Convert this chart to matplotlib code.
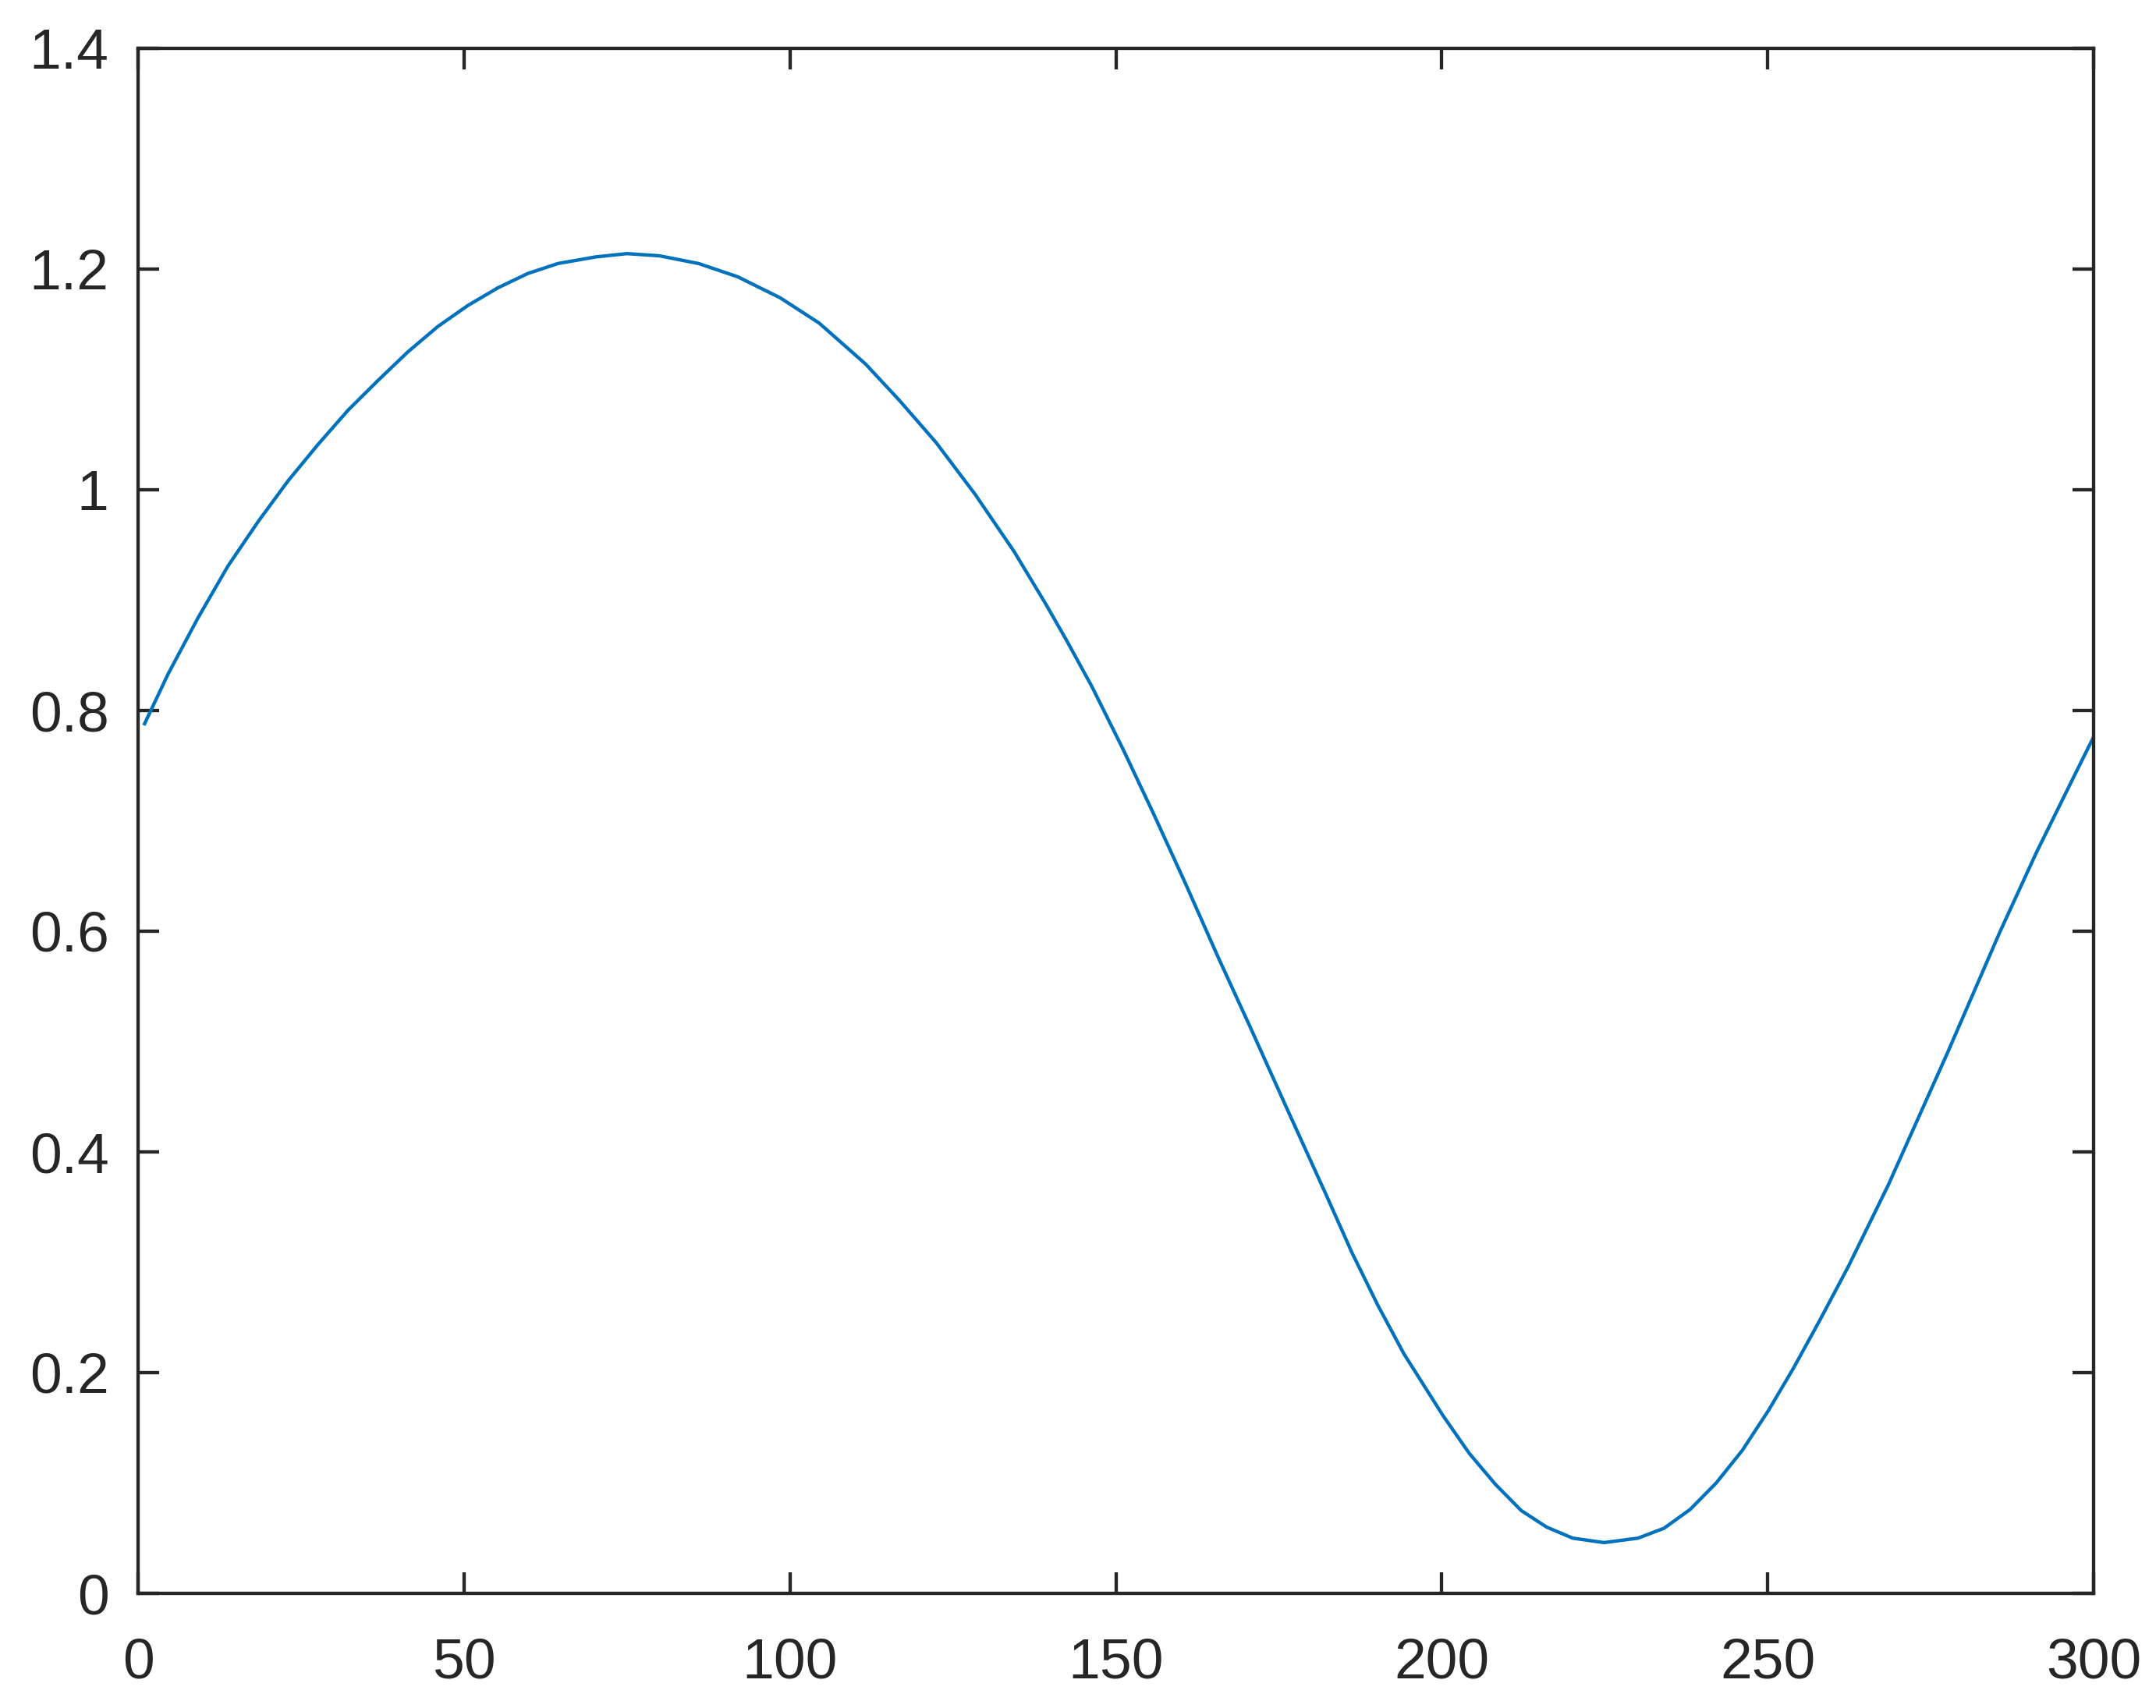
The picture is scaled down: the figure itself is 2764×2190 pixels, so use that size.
import matplotlib
matplotlib.use("Agg")
import matplotlib.pyplot as plt

# values
x_vals = [1, 4.6, 9.2, 13.8, 18.4, 23.0, 27.6, 32.2, 36.8, 41.4, 46.0, 50.6,
          55.2, 59.8, 64.4, 70.2, 75, 80, 86, 92, 98.5, 104.5, 111.6, 116.8,
          122.4, 128.4, 134.4, 139.2, 142.4, 146.3, 151.1, 155.9, 160.7, 165.5,
          170.7, 176.5, 182.2, 186.2, 190.2, 194.2, 200.2, 204.2, 208.2, 212.2,
          216.1, 220.1, 224.9, 230.1, 234.1, 238.1, 242.1, 246.1, 250.1, 254.0,
          258.0, 262.4, 268.5, 277.6, 285.6, 291.2, 296.8, 300]
y_vals = [0.788, 0.833, 0.884, 0.931, 0.971, 1.008, 1.041, 1.072, 1.099, 1.125,
          1.148, 1.167, 1.183, 1.196, 1.205, 1.211, 1.214, 1.212, 1.205, 1.193,
          1.174, 1.151, 1.114, 1.081, 1.043, 0.996, 0.944, 0.897, 0.864, 0.822,
          0.765, 0.705, 0.643, 0.579, 0.512, 0.436, 0.362, 0.309, 0.261, 0.217,
          0.161, 0.127, 0.099, 0.075, 0.060, 0.050, 0.046, 0.050, 0.059, 0.076,
          0.100, 0.1295, 0.1655, 0.2045, 0.2475, 0.2965, 0.370, 0.490, 0.599,
          0.671, 0.738, 0.776]

x_ticks = [0, 50, 100, 150, 200, 250, 300]
y_ticks = [0, 0.2, 0.4, 0.6, 0.8, 1, 1.2, 1.4]
y_labels = ['0', '0.2', '0.4', '0.6', '0.8', '1', '1.2', '1.4']

dark = '#262626'
plt.rcParams['font.family'] = ['Liberation Sans', 'DejaVu Sans']

fig = plt.figure(figsize=(2764 / 300, 2190 / 300), dpi=300)
ax = fig.add_axes([177 / 2764, 147 / 2190, 2507 / 2764, 1981 / 2190])

ax.plot(x_vals, y_vals, color='#0072BD', linewidth=1.05, solid_joinstyle='round')

ax.set_xlim(0, 300)
ax.set_ylim(0, 1.4)
ax.set_xticks(x_ticks)
ax.set_yticks(y_ticks)
ax.set_yticklabels(y_labels)

for s in ax.spines.values():
    s.set_color(dark)
    s.set_linewidth(1.04)

ax.tick_params(direction='in', length=6.5, width=1.04, color=dark,
               labelcolor=dark, labelsize=17.6,
               top=True, right=True)
ax.tick_params(axis='x', pad=13.5)
ax.tick_params(axis='y', pad=9)

fig.savefig('out.png', dpi=300)
